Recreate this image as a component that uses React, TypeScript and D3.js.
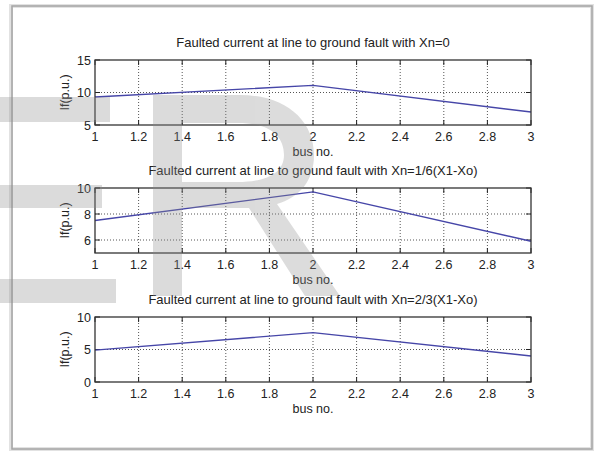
import React, { useEffect, useRef } from "react";
import * as d3 from "d3";

const busNo = [1, 2, 3];
const currentXn0 = [9.3, 11.1, 7.0];
const currentXn16 = [7.5, 9.7, 5.9];
const currentXn23 = [4.9, 7.6, 4.0];

const titles = [
  "Faulted current at line to ground fault with Xn=0",
  "Faulted current at line to ground fault with Xn=1/6(X1-Xo)",
  "Faulted current at line to ground fault with Xn=2/3(X1-Xo)"
];
const xTicks = [1, 1.2, 1.4, 1.6, 1.8, 2, 2.2, 2.4, 2.6, 2.8, 3];
const yTicks1 = [5, 10, 15];
const yTicks2 = [6, 8, 10];
const yTicks3 = [0, 5, 10];

const width = 597;
const height = 451;
const font = "'Liberation Sans', Arial, sans-serif";
const lineColor = "#4646a8";

const panels = [
  { values: currentXn0, ticks: yTicks1, domain: [5, 15], top: 60, title: titles[0] },
  { values: currentXn16, ticks: yTicks2, domain: [5, 10], top: 188, title: titles[1] },
  { values: currentXn23, ticks: yTicks3, domain: [0, 10], top: 317, title: titles[2] }
];

// watermark letter outline (scanned-page artefact), drawn as a shape
const watermarkR =
  "M153,95 L240,95 C285,95 314,120 314,155 C314,182 298,198 277,204 L340,296 L305,296 L249,208 L182,208 L182,296 L153,296 Z " +
  "M182,123 L238,123 C268,123 284,135 284,155 C284,172 268,182 238,182 L182,182 Z";

const App = () => {
  const chart = useRef<SVGSVGElement>(null);

  useEffect(() => {
    const svg = d3.select(chart.current);
    svg.selectAll("*").remove();

    // figure frame
    svg
      .append("rect")
      .attr("x", 11)
      .attr("y", 6)
      .attr("width", 581)
      .attr("height", 443)
      .attr("fill", "#fff")
      .attr("stroke", "#e2e2e2")
      .attr("stroke-width", 4);
    svg
      .append("rect")
      .attr("x", 12)
      .attr("y", 6)
      .attr("width", 580)
      .attr("height", 443)
      .attr("fill", "none")
      .attr("stroke", "#a4a4a4")
      .attr("stroke-width", 1.5);

    const left = 95;
    const right = 531;
    const plotH = 65;
    const x = d3.scaleLinear().domain([1, 3]).range([left, right]);

    panels.forEach(p => {
      const y = d3.scaleLinear().domain(p.domain).range([p.top + plotH, p.top]);
      const g = svg.append("g");

      g.append("rect")
        .attr("x", left)
        .attr("y", p.top)
        .attr("width", right - left)
        .attr("height", plotH)
        .attr("fill", "#fff");

      // grid
      g.selectAll(".gx")
        .data(xTicks.slice(1, -1))
        .join("line")
        .attr("x1", d => x(d))
        .attr("x2", d => x(d))
        .attr("y1", p.top)
        .attr("y2", p.top + plotH)
        .attr("stroke", "#555")
        .attr("stroke-width", 1)
        .attr("stroke-dasharray", "1,2");
      g.selectAll(".gy")
        .data(p.ticks.filter(t => t > p.domain[0] && t < p.domain[1]))
        .join("line")
        .attr("x1", left)
        .attr("x2", right)
        .attr("y1", d => y(d))
        .attr("y2", d => y(d))
        .attr("stroke", "#555")
        .attr("stroke-width", 1)
        .attr("stroke-dasharray", "1,2");

      // tick marks (inward, both sides)
      xTicks.forEach(t => {
        g.append("line")
          .attr("x1", x(t)).attr("x2", x(t))
          .attr("y1", p.top).attr("y2", p.top + 5)
          .attr("stroke", "#222");
        g.append("line")
          .attr("x1", x(t)).attr("x2", x(t))
          .attr("y1", p.top + plotH).attr("y2", p.top + plotH - 5)
          .attr("stroke", "#222");
      });
      p.ticks.forEach(t => {
        g.append("line")
          .attr("x1", left).attr("x2", left + 5)
          .attr("y1", y(t)).attr("y2", y(t))
          .attr("stroke", "#222");
        g.append("line")
          .attr("x1", right).attr("x2", right - 5)
          .attr("y1", y(t)).attr("y2", y(t))
          .attr("stroke", "#222");
      });

      // data line
      const line = d3
        .line<number>()
        .x((d, i) => x(busNo[i]))
        .y(d => y(d));
      g.append("path")
        .attr("d", line(p.values))
        .attr("fill", "none")
        .attr("stroke", lineColor)
        .attr("stroke-width", 1.4);

      g.append("rect")
        .attr("x", left)
        .attr("y", p.top)
        .attr("width", right - left)
        .attr("height", plotH)
        .attr("fill", "none")
        .attr("stroke", "#333")
        .attr("stroke-width", 1.3);

      // labels
      g.selectAll(".xl")
        .data(xTicks)
        .join("text")
        .attr("x", d => x(d))
        .attr("y", p.top + plotH + 16)
        .attr("text-anchor", "middle")
        .attr("font-family", font)
        .attr("font-size", 12.5)
        .attr("fill", "#222")
        .text(d => d3.format("~g")(d));
      g.selectAll(".yl")
        .data(p.ticks)
        .join("text")
        .attr("x", left - 4)
        .attr("y", d => y(d) + 4.5)
        .attr("text-anchor", "end")
        .attr("font-family", font)
        .attr("font-size", 12.5)
        .attr("fill", "#222")
        .text(d => d);

      g.append("text")
        .attr("x", (left + right) / 2)
        .attr("y", p.top - 13)
        .attr("text-anchor", "middle")
        .attr("font-family", font)
        .attr("font-size", 13)
        .attr("fill", "#222")
        .text(p.title);
      g.append("text")
        .attr("x", (left + right) / 2)
        .attr("y", p.top + plotH + 31)
        .attr("text-anchor", "middle")
        .attr("font-family", font)
        .attr("font-size", 12.5)
        .attr("fill", "#222")
        .text("bus no.");
      g.append("text")
        .attr("transform", `translate(${69},${p.top + plotH / 2}) rotate(-90)`)
        .attr("text-anchor", "middle")
        .attr("font-family", font)
        .attr("font-size", 12.5)
        .attr("fill", "#222")
        .text("If(p.u.)");
    });

    // watermark
    const wm = svg.append("g").attr("fill", "#8c8c8c").attr("opacity", 0.3);
    wm.append("rect").attr("x", 0).attr("y", 97).attr("width", 110).attr("height", 25);
    wm.append("rect").attr("x", 0).attr("y", 185).attr("width", 102).attr("height", 23);
    wm.append("rect").attr("x", 0).attr("y", 279).attr("width", 116).attr("height", 24);
    wm.append("path").attr("d", watermarkR).attr("fill-rule", "evenodd");
  }, []);

  return (
    <svg
      ref={chart}
      width={width}
      height={height}
      viewBox={`0 0 ${width} ${height}`}
      style={{ position: "absolute", left: 0, top: 0, background: "#fff" }}
    ></svg>
  );
};

export default App;
